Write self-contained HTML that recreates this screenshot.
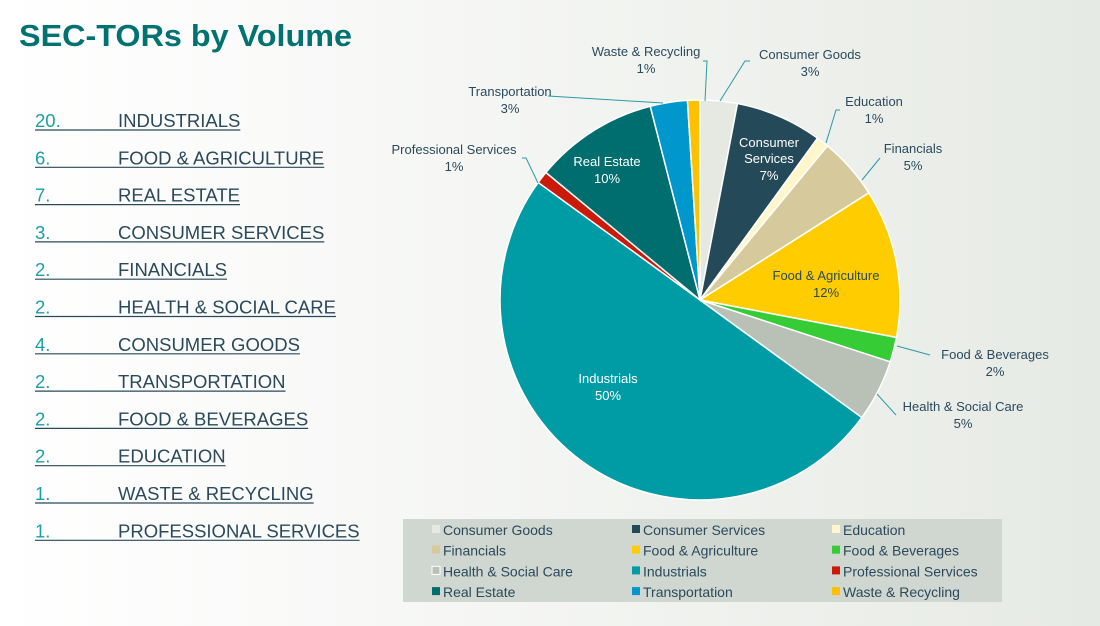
<!DOCTYPE html>
<html><head><meta charset="utf-8"><style>
body{margin:0;width:1100px;height:621px;overflow:hidden;background:linear-gradient(90deg,#ffffff 0%,#f6f7f5 40%,#e6eae4 100%);font-family:"Liberation Sans",sans-serif}
</style></head><body>
<svg width="1100" height="621" viewBox="0 0 1100 621" xmlns="http://www.w3.org/2000/svg" font-family="Liberation Sans, sans-serif">
<text x="19" y="46" font-size="31" font-weight="bold" fill="#007272" textLength="333" lengthAdjust="spacingAndGlyphs">SEC-TORs by Volume</text>
<g font-size="18.5" fill="#2a4a5c">
<g id="rows"></g>
</g>
<script>
(function(){
var rows=[["20.","INDUSTRIALS"],["6.","FOOD & AGRICULTURE"],["7.","REAL ESTATE"],["3.","CONSUMER SERVICES"],["2.","FINANCIALS"],["2.","HEALTH & SOCIAL CARE"],["4.","CONSUMER GOODS"],["2.","TRANSPORTATION"],["2.","FOOD & BEVERAGES"],["2.","EDUCATION"],["1.","WASTE & RECYCLING"],["1.","PROFESSIONAL SERVICES"]];
var ns="http://www.w3.org/2000/svg",g=document.getElementById("rows");
function el(t,a,txt){var e=document.createElementNS(ns,t);for(var k in a)e.setAttribute(k,a[k]);if(txt)e.textContent=txt;return e;}
rows.forEach(function(r,i){var y=127+i*37.3;
g.appendChild(el("text",{x:35,y:y,fill:"#1c9ea8"},r[0]));
g.appendChild(el("text",{x:118,y:y,fill:"#2a4a5c"},r[1]));
});
})();
</script>
<g id="pie"></g>
<g font-size="13" fill="#2a4a5c" text-anchor="middle">
<text x="646" y="56">Waste &amp; Recycling</text><text x="646" y="73">1%</text>
<text x="810" y="59">Consumer Goods</text><text x="810" y="76">3%</text>
<text x="510" y="96">Transportation</text><text x="510" y="113">3%</text>
<text x="874" y="106">Education</text><text x="874" y="123">1%</text>
<text x="454" y="154">Professional Services</text><text x="454" y="171">1%</text>
<text x="913" y="153">Financials</text><text x="913" y="170">5%</text>
<text x="995" y="359">Food &amp; Beverages</text><text x="995" y="376">2%</text>
<text x="963" y="411">Health &amp; Social Care</text><text x="963" y="428">5%</text>
<text x="607" y="166" fill="#fff">Real Estate</text><text x="607" y="183" fill="#fff">10%</text>
<text x="769" y="147" fill="#fff">Consumer</text><text x="769" y="163" fill="#fff">Services</text><text x="769" y="180" fill="#fff">7%</text>
<text x="826" y="280">Food &amp; Agriculture</text><text x="826" y="297">12%</text>
<text x="608" y="383" fill="#fff">Industrials</text><text x="608" y="400" fill="#fff">50%</text>
</g>
<g stroke="#2a9aa6" stroke-width="1" fill="none">
<polyline points="705,101 707,61 703,61"/>
<polyline points="720,101 745,61 750,61"/>
<polyline points="663,103 548,96"/>
<polyline points="826,143 836,110 840,110"/>
<polyline points="538,183 526,158 522,158"/>
<polyline points="862,180 880,158"/>
<polyline points="897,346 930,355"/>
<polyline points="877,394 896,415"/>
</g>
<rect x="403" y="519" width="599" height="83" fill="#d0d6d0"/>
<g id="leg" font-size="14" fill="#2a4a5c"></g>
<script>
(function(){
var ns="http://www.w3.org/2000/svg";
function el(t,a,txt){var e=document.createElementNS(ns,t);for(var k in a)e.setAttribute(k,a[k]);if(txt)e.textContent=txt;return e;}
var d=[["Consumer Goods",3,"#e6e8e2"],["Consumer Services",7,"#244a5a"],["Education",1,"#fff6cc"],["Financials",5,"#d6ca9c"],["Food & Agriculture",12,"#ffcc00"],["Food & Beverages",2,"#36cc36"],["Health & Social Care",5,"#b9c0b6"],["Industrials",50,"#009ca6"],["Professional Services",1,"#cc1a0a"],["Real Estate",10,"#006e6e"],["Transportation",3,"#0098cc"],["Waste & Recycling",1,"#ffc000"]];
var cx=700,cy=300,r=200,a=0,pie=document.getElementById("pie");
d.forEach(function(s){var a1=a+s[1]/100*2*Math.PI;
var x0=cx+r*Math.sin(a),y0=cy-r*Math.cos(a),x1=cx+r*Math.sin(a1),y1=cy-r*Math.cos(a1);
pie.appendChild(el("path",{d:"M"+cx+","+cy+"L"+x0+","+y0+"A"+r+","+r+" 0 "+(a1-a>Math.PI?1:0)+" 1 "+x1+","+y1+"Z",fill:s[2],stroke:"#fff","stroke-width":1.5}));a=a1;});
var leg=document.getElementById("leg");
d.forEach(function(s,i){var c=i%3,rw=Math.floor(i/3);var x=432+c*200,y=530+rw*20.7;
leg.appendChild(el("rect",{x:x,y:y-5,width:8,height:8,fill:s[2],stroke:i==6?"#fff":"none"}));
leg.appendChild(el("text",{x:x+11,y:y+5},s[0]));});
var rows=document.getElementById("rows");
for(var i=0;i<12;i++){var y=130+i*37.3;var t=rows.childNodes[2*i+1];var w=t.getComputedTextLength();
rows.appendChild(el("line",{x1:35,y1:y,x2:118+w,y2:y,stroke:"#2a4a5c","stroke-width":1.2}));}
})();
</script>
</svg>
</body></html>
